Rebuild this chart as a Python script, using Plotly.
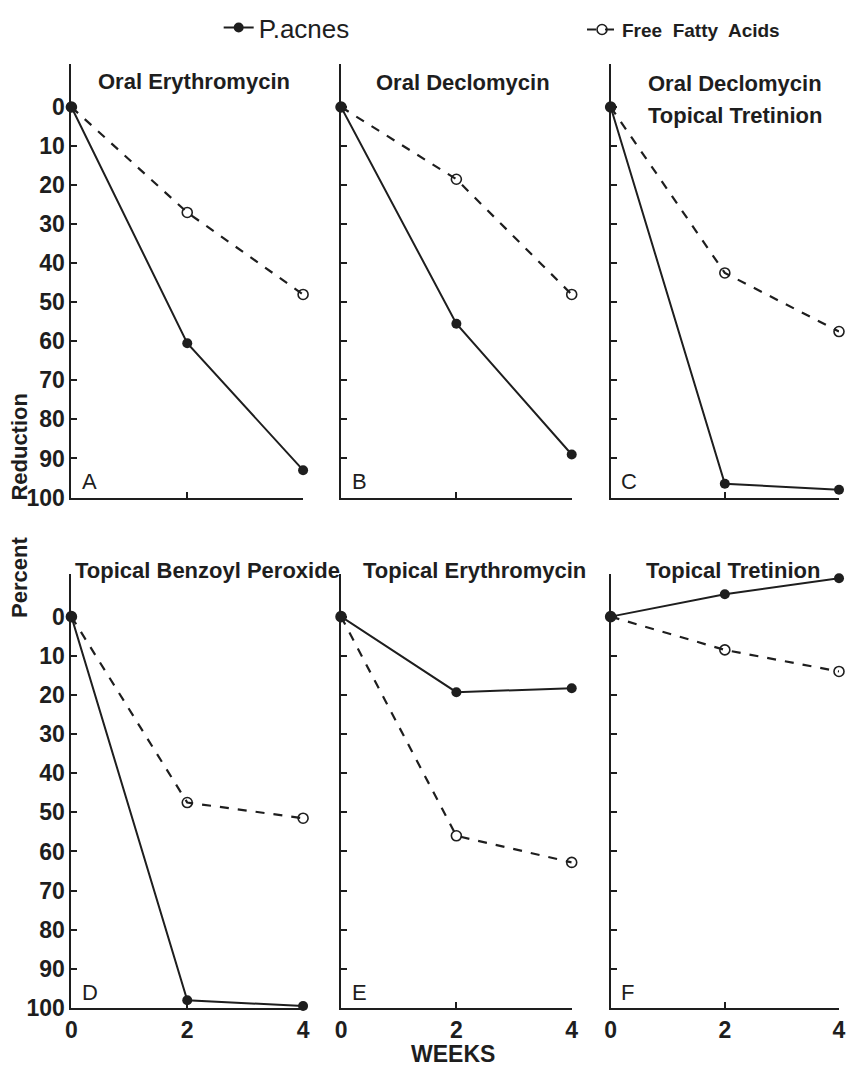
import plotly.graph_objects as go

weeks = [0, 2, 4]
panels = ["A", "B", "C", "D", "E", "F"]
titles = [["Oral Erythromycin"], ["Oral Declomycin"], ["Oral Declomycin", "Topical Tretinion"],
          ["Topical Benzoyl Peroxide"], ["Topical Erythromycin"], ["Topical Tretinion"]]
pacnes_A = [0, 60.5, 93]
pacnes_B = [0, 55.5, 89]
pacnes_C = [0, 96.5, 98]
pacnes_D = [0, 98, 99.5]
pacnes_E = [0, 19.3, 18.3]
pacnes_F = [0, -5.7, -9.8]
ffa_A = [0, 27, 48]
ffa_B = [0, 18.5, 48]
ffa_C = [0, 42.5, 57.5]
ffa_D = [0, 47.5, 51.5]
ffa_E = [0, 56, 62.8]
ffa_F = [0, 8.5, 14]
pacnes = [pacnes_A, pacnes_B, pacnes_C, pacnes_D, pacnes_E, pacnes_F]
ffa = [ffa_A, ffa_B, ffa_C, ffa_D, ffa_E, ffa_F]
y_ticks = [0, 10, 20, 30, 40, 50, 60, 70, 80, 90, 100]
x_ticks = [0, 2, 4]

FW, FH = 846, 1083
INK = "#1e1e1e"
FONT = "Liberation Sans"

# the photographed page comes out slightly reduced; place items so they land on target pixels
SX, OX, SY = 0.986, 4.5, 0.987


def tx(x):
    return min((x - OX) / SX, FW)


def ty(y):
    return y / SY


def px(x):
    return x / FW


def py(y):
    return 1 - y / FH


col_px = [(70, 302), (340, 571), (610, 842)]
row_px = [(64, 497), (573, 1007)]
title_x = [95, 373, 645, 72, 360, 643]
title_y = [[81], [82], [83, 115], [570], [570], [570]]

fig = go.Figure()
layout = {}
annotations = []
for i, p in enumerate(panels):
    r, c = divmod(i, 3)
    n = i + 1
    xa = "x" if n == 1 else f"x{n}"
    ya = "y" if n == 1 else f"y{n}"
    x0, x1 = col_px[c]
    yt, yb = row_px[r]
    layout[f"xaxis{n}" if n > 1 else "xaxis"] = dict(
        domain=[px(tx(x0)), px(tx(x1))], anchor=ya, range=[0, 4],
        tickvals=x_ticks, ticktext=[str(v) for v in x_ticks],
        showticklabels=(r == 1), ticks="inside", ticklen=6, tickwidth=2, tickcolor=INK,
        showline=True, linecolor=INK, linewidth=2, showgrid=False, zeroline=False,
        tickfont=dict(family=FONT, size=23, color=INK, weight="bold"),
    )
    layout[f"yaxis{n}" if n > 1 else "yaxis"] = dict(
        domain=[py(ty(yb)), py(ty(yt))], anchor=xa, range=[100, -11],
        tickvals=y_ticks, showticklabels=(c == 0),
        ticks="inside", ticklen=6, tickwidth=2, tickcolor=INK,
        showline=True, linecolor=INK, linewidth=2, showgrid=False, zeroline=False,
        tickfont=dict(family=FONT, size=23, color=INK, weight="bold"),
    )
    fig.add_trace(go.Scatter(
        x=weeks, y=pacnes[i], xaxis=xa, yaxis=ya, mode="lines+markers",
        name="P.acnes", legend="legend", showlegend=(i == 0), cliponaxis=False,
        line=dict(color=INK, width=2),
        marker=dict(symbol="circle", size=10, color=INK),
    ))
    fig.add_trace(go.Scatter(
        x=weeks, y=ffa[i], xaxis=xa, yaxis=ya, mode="lines+markers",
        name="<b>Free  Fatty  Acids</b>", legend="legend2", showlegend=(i == 0), cliponaxis=False,
        line=dict(color=INK, width=2.2, dash="dash"),
        marker=dict(symbol="circle-open", size=10, color=INK, line=dict(width=1.6)),
    ))
    annotations.append(dict(
        xref=xa, yref=ya, x=0.15, y=96, text=p, showarrow=False,
        xanchor="left", yanchor="middle", font=dict(family=FONT, size=22, color=INK),
    ))
    for k, line in enumerate(titles[i]):
        annotations.append(dict(
            xref="paper", yref="paper", x=px(tx(title_x[i])), y=py(ty(title_y[i][k])),
            text=line, showarrow=False, xanchor="left", yanchor="middle",
            font=dict(family=FONT, size=22, color=INK, weight="bold"),
        ))

annotations.append(dict(
    xref="paper", yref="paper", x=px(tx(18)), y=py(ty(505)), text="<b>Percent      Reduction</b>",
    textangle=-90, showarrow=False, xanchor="center", yanchor="middle",
    font=dict(family=FONT, size=22, color=INK),
))
annotations.append(dict(
    xref="paper", yref="paper", x=px(tx(452)), y=py(ty(1053)), text="<b>WEEKS</b>",
    showarrow=False, xanchor="center", yanchor="middle",
    font=dict(family=FONT, size=23, color=INK),
))

fig.update_layout(
    width=FW, height=FH, margin=dict(l=0, r=0, t=0, b=0),
    paper_bgcolor="white", plot_bgcolor="white",
    annotations=annotations,
    showlegend=True,
    legend=dict(orientation="h", x=px(216), y=py(28), xanchor="left", yanchor="middle",
                font=dict(family=FONT, size=26, color=INK), bgcolor="rgba(0,0,0,0)"),
    legend2=dict(orientation="h", x=px(585), y=py(30), xanchor="left", yanchor="middle",
                 font=dict(family=FONT, size=19, color=INK), bgcolor="rgba(0,0,0,0)"),
    **layout,
)

fig.write_html(
    "out.html",
    config={"displayModeBar": False},
    post_script="document.body.style.margin='0';document.body.style.overflow='hidden';",
)
